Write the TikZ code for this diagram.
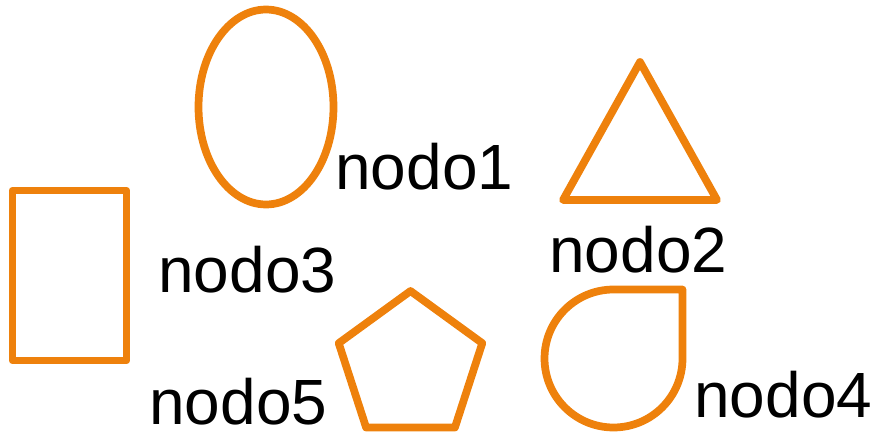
\documentclass[tikz,border=0pt]{standalone}
\usepackage{fontspec}
\setmainfont{Liberation Sans}
\usetikzlibrary{shapes.geometric, positioning}

\definecolor{shapeorange}{RGB}{238,129,12}

\begin{document}
\begin{tikzpicture}[
    x=0.02cm, y=0.02cm,
    % Orange outlined shape
    shapebox/.style={
        draw=shapeorange, line width=4.4pt, line join=round,
        inner sep=0pt, outer sep=0pt
    },
    % Black label under / beside a shape
    shapelabel/.style={
        anchor=base west, inner sep=0pt, text=black,
        font=\fontsize{36.4}{40}\selectfont
    }
]
    \useasboundingbox (0,0) rectangle (872,437);

    % =========================================================================
    % Shapes
    % =========================================================================
    \node[shapebox, ellipse, minimum width=2.7cm, minimum height=3.9cm]
        (elipse) at (266,330) {};

    \node[shapebox, isosceles triangle, shape border rotate=90,
        isosceles triangle stretches, minimum width=3.08cm, minimum height=2.76cm,
        anchor=apex] (triang) at (640,375) {};

    \node[shapebox, rectangle, minimum width=2.28cm, minimum height=3.4cm]
        (rect) at (69.5,161.5) {};

    \node[shapebox, regular polygon, regular polygon sides=5, minimum size=3.02cm]
        (penta) at (410.5,70.5) {};

    % Drop: circle with one square corner
    \coordinate (tear) at (613.5,78.5);
    \draw[shapebox] (tear) ++(0,69) -- ++(69,0) -- ++(0,-69)
        arc[start angle=0, end angle=-270, radius=1.38cm] -- cycle;

    % =========================================================================
    % Labels
    % =========================================================================
    \node[shapelabel] (n1) at (335,248) {nodo1};
    \node[shapelabel] (n2) at (549,165) {nodo2};
    \node[shapelabel] (n3) at (158,145) {nodo3};
    \node[shapelabel] (n4) at (694,20) {nodo4};
    \node[shapelabel] (n5) at (149,13) {nodo5};

\end{tikzpicture}
\end{document}
